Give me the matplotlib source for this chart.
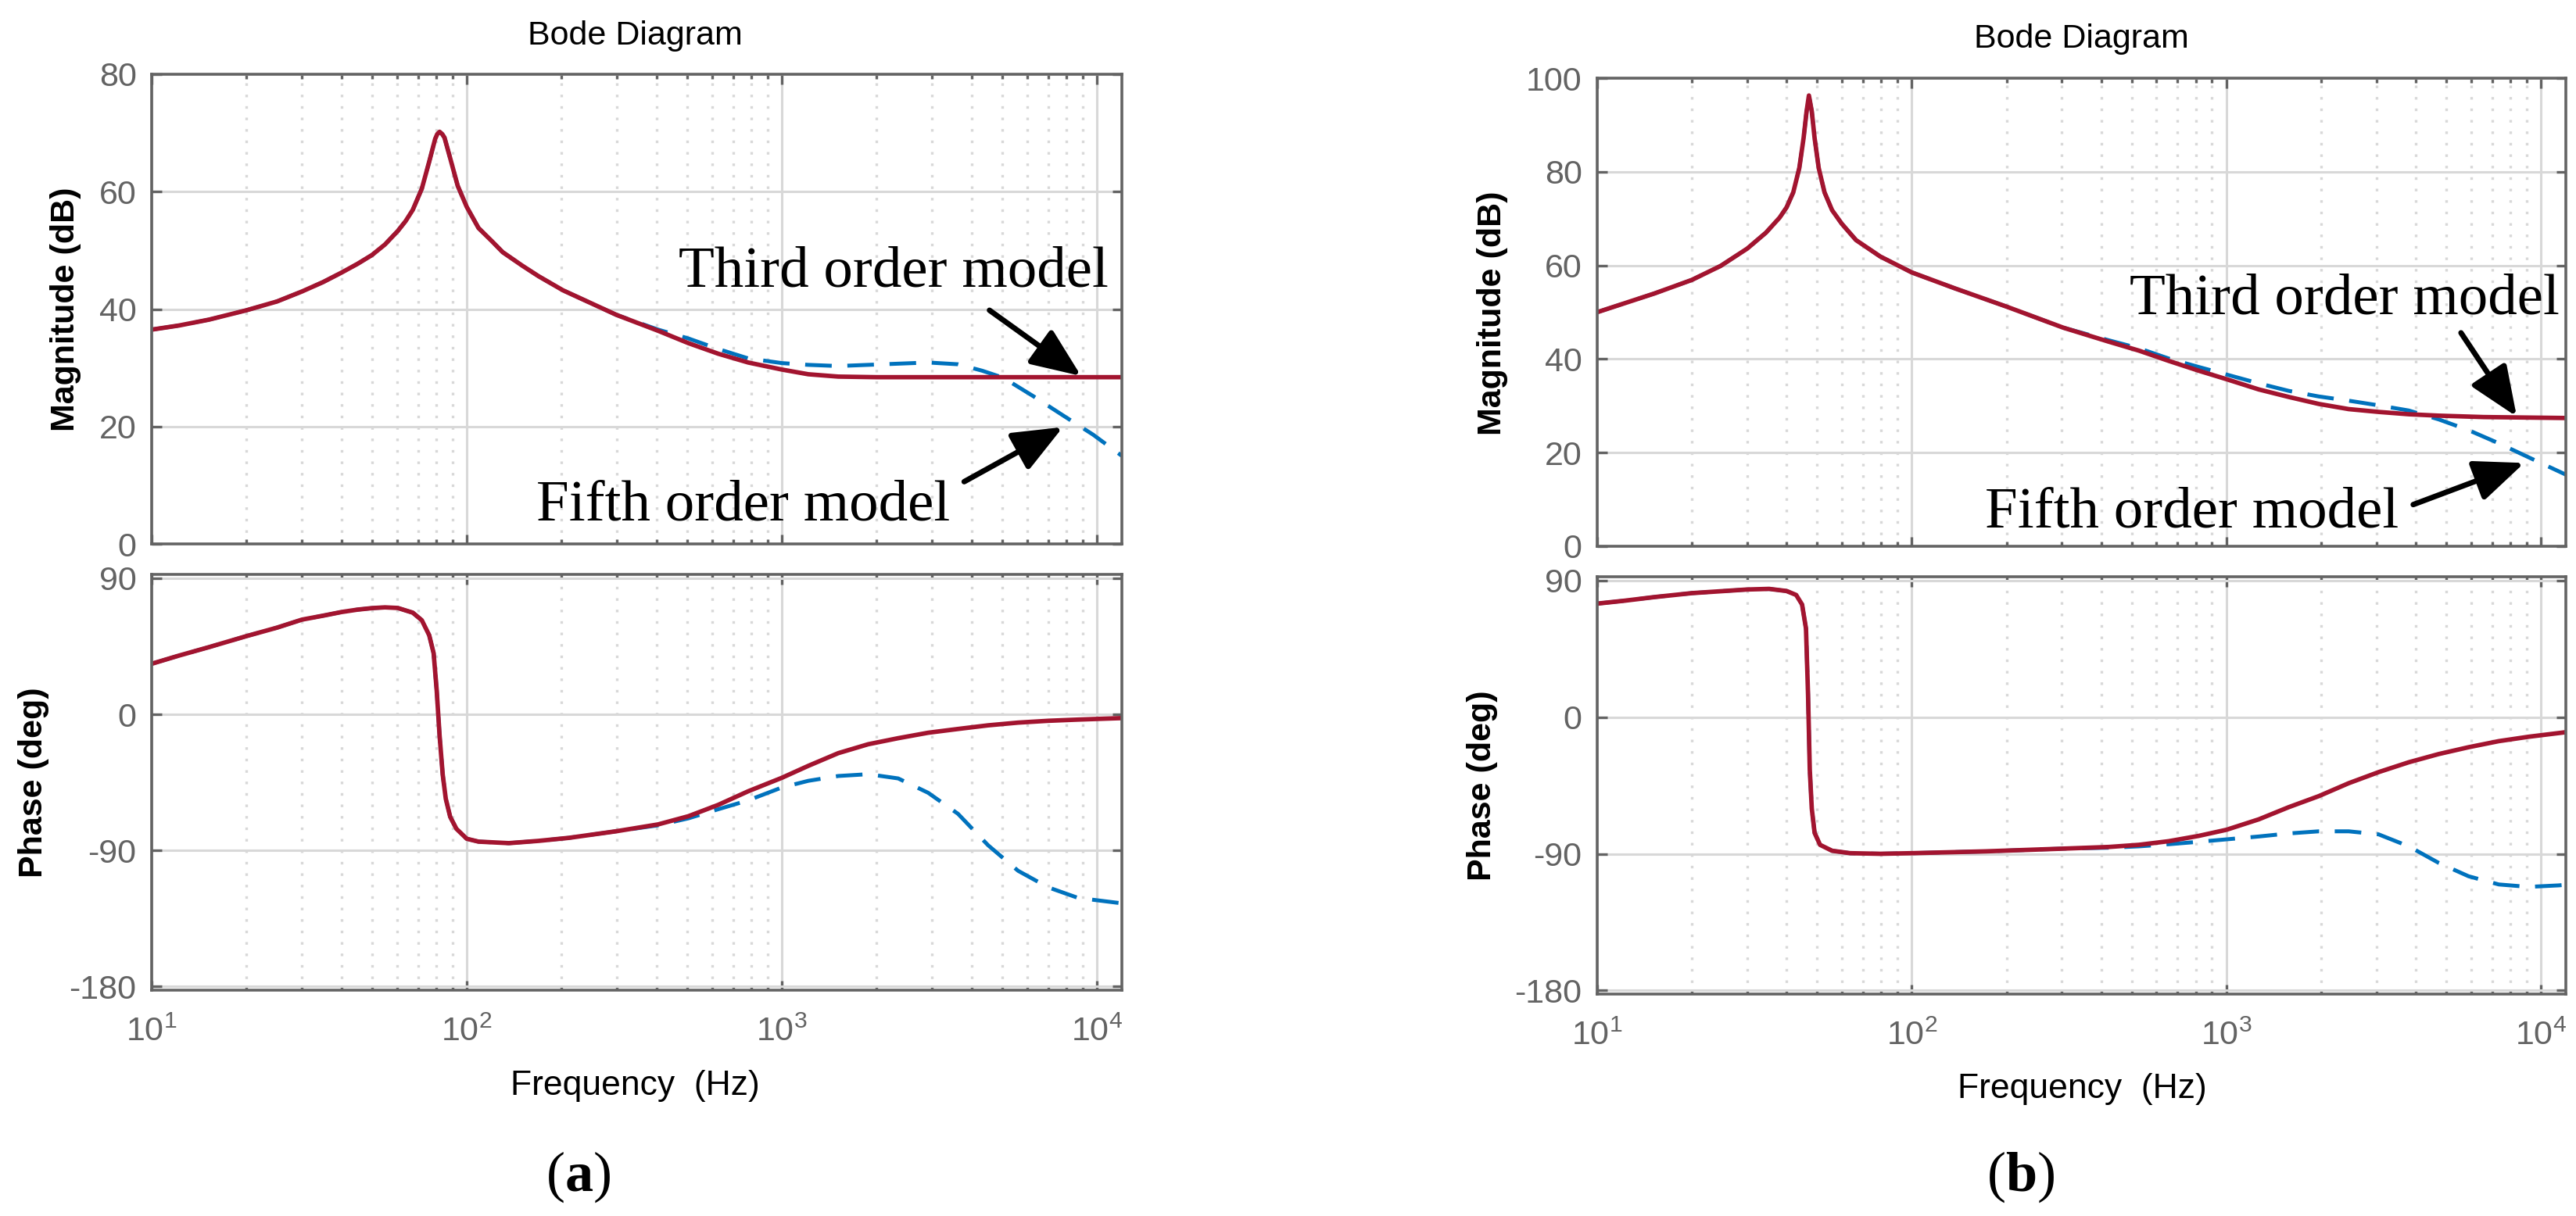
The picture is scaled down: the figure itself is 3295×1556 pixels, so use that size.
""" Bode diagrams: third order vs. fifth order model, panels (a) and (b).

    Curve values read off the published figure.
"""

import numpy as np
import matplotlib
matplotlib.use('Agg')
import matplotlib.pyplot as plt
from matplotlib.ticker import LogLocator, FuncFormatter, NullFormatter

plt.rcParams['font.family'] = ['Liberation Sans', 'DejaVu Sans']
plt.rcParams['axes.unicode_minus'] = False
plt.rcParams['mathtext.fontset'] = 'custom'
plt.rcParams['mathtext.rm'] = 'Liberation Serif'
plt.rcParams['mathtext.bf'] = 'Liberation Serif:bold'


########
# Data #
########
# Panel (a), magnitude (dB)
freq_a_mag = [10, 12.2, 15.2, 20, 25, 30, 35, 40, 45, 50,
              55, 60.4, 64, 67.4, 72, 76, 79.4, 80.6, 82, 83.6,
              85, 88.7, 93.6, 100, 109, 120, 130, 150, 169, 202,
              299, 405, 505, 628, 782, 1000, 1213, 1510, 2000, 5000,
              12000]
third_a_mag = [36.5, 37.2, 38.2, 39.8, 41.3, 43.0, 44.6, 46.2, 47.7, 49.2,
               51.0, 53.3, 55.0, 56.9, 60.5, 65.1, 69.0, 69.8, 70.2, 69.8,
               69.2, 65.6, 61.0, 57.4, 53.8, 51.6, 49.7, 47.4, 45.6, 43.2,
               39.0, 36.3, 34.2, 32.4, 30.9, 29.7, 28.9, 28.5, 28.4, 28.4,
               28.4]
# fifth order model sits on the third order curve below ~300 Hz
n = freq_a_mag.index(299) + 1
freq_a_mag5 = freq_a_mag[:n] + [405, 505, 628, 782, 1000, 1213, 1510, 1880,
                                2340, 2913, 3623, 4325, 5047, 6266, 7800,
                                9730, 12000]
fifth_a_mag = third_a_mag[:n] + [36.5, 35.0, 33.2, 31.6, 30.8, 30.5, 30.3,
                                 30.5, 30.7, 30.9, 30.6, 29.5, 28.3, 25.2,
                                 21.9, 18.6, 15.0]

# Panel (a), phase (deg)
freq_a_ph = [10, 12.2, 15.2, 20, 25, 30, 35, 40, 45, 50,
             55, 60.4, 67.4, 72, 76, 78.5, 80.3, 82, 83.9, 85.8,
             88.6, 92.7, 100, 109, 136, 169, 211, 299, 405, 505,
             628, 782, 1000, 1213, 1510, 1880, 2340, 2913, 3623, 4515,
             5623, 7000, 8710, 12000]
third_a_ph = [33.4, 38.8, 44.4, 51.7, 57.3, 62.6, 65.2, 67.6, 69.2, 70.2,
              70.7, 70.3, 67.2, 62.2, 52.3, 40.4, 15.6, -14.2, -40.0, -55.9,
              -67.8, -75.7, -82.3, -84.2, -85.2, -83.7, -81.7, -77.3, -72.8, -67.4,
              -59.9, -50.9, -42.0, -34.1, -25.7, -19.8, -15.8, -12.2, -9.7, -7.3,
              -5.5, -4.3, -3.5, -2.5]
n = freq_a_ph.index(299) + 1
freq_a_ph5 = freq_a_ph[:n] + [405, 505, 628, 782, 1000, 1213, 1510, 1880,
                              2340, 2913, 3623, 4515, 5623, 7000, 8710, 12000]
fifth_a_ph = third_a_ph[:n] + [-73.4, -68.8, -62.8, -56.9, -48.4, -44.0,
                               -40.8, -39.6, -42.4, -51.9, -65.8, -86.6,
                               -103.5, -114.4, -121.4, -125.0]

# Panel (b), magnitude (dB)
freq_b_mag = [10, 12.2, 15.2, 20, 24.7, 30, 34.4, 38, 40, 42,
              43.9, 45.3, 46.3, 47.1, 48.1, 49.1, 50.6, 52.8, 55.8, 59.9,
              66.5, 79.4, 100, 137, 200, 303, 423, 527, 656, 817,
              1000, 1268, 1578, 1968, 2449, 3048, 3802, 4732, 6577, 12000]
third_b_mag = [50.0, 51.9, 54.0, 56.9, 59.9, 63.6, 67.0, 70.2, 72.4, 75.6,
               80.8, 87.2, 92.9, 96.3, 92.9, 87.2, 80.8, 75.6, 71.8, 68.9,
               65.4, 61.9, 58.5, 55.1, 51.2, 46.7, 43.7, 41.8, 39.6, 37.5,
               35.7, 33.5, 31.9, 30.4, 29.3, 28.7, 28.2, 27.9, 27.6, 27.4]
n = freq_b_mag.index(303) + 1
freq_b_mag5 = freq_b_mag[:n] + [423, 527, 656, 817, 1000, 1268, 1578, 1968,
                                2449, 3048, 3802, 4732, 5888, 7345, 9140,
                                12000]
fifth_b_mag = third_b_mag[:n] + [44.0, 42.3, 40.1, 38.3, 36.7, 34.8, 33.2,
                                 32.0, 31.1, 30.1, 29.0, 27.1, 24.8, 22.0,
                                 19.0, 15.3]

# Panel (b), phase (deg)
freq_b_ph = [10, 12.2, 15.2, 20, 30, 35.2, 40, 42.9, 44.8, 46.1,
             46.8, 47.4, 48.1, 49.1, 51.1, 55.8, 63.7, 79.4, 100, 171,
             303, 423, 527, 656, 817, 1000, 1268, 1578, 1968, 2449,
             3048, 3802, 4732, 5888, 7345, 9140, 12000]
third_b_ph = [74.8, 76.7, 79.1, 81.7, 84.1, 84.5, 83.1, 80.5, 74.2, 58.4,
              14.9, -34.6, -60.3, -76.2, -84.1, -88.0, -89.6, -90.0, -89.6, -88.4,
              -86.6, -85.5, -84.1, -81.7, -78.2, -74.2, -67.3, -59.3, -52.0, -43.5,
              -36.2, -29.7, -24.3, -19.8, -15.8, -12.9, -9.9]
n = freq_b_ph.index(303) + 1
freq_b_ph5 = freq_b_ph[:n] + [423, 527, 656, 817, 1000, 1268, 1578, 1968,
                              2449, 3048, 3802, 4732, 5888, 7345, 9140,
                              11400, 12000]
fifth_b_ph = third_b_ph[:n] + [-86.0, -85.1, -83.7, -82.1, -80.5, -78.6,
                               -76.6, -75.2, -75.2, -77.2, -85.1, -96.0,
                               -104.8, -110.2, -111.8, -110.8, -110.4]

mag_ticks_a = [0, 20, 40, 60, 80]
mag_ticks_b = [0, 20, 40, 60, 80, 100]
phase_ticks = [-180, -90, 0, 90]


##########
# Styles #
##########
W, H = 3295, 1556
RED = '#A2142F'
BLUE = '#0072BD'
AXC = '#636363'
GRID = '#d8d8d8'


def px_box(l, t, r, b):
    """ Axes rectangle from pixel edges (top-left origin). """
    return [l / W, 1 - b / H, (r - l) / W, (b - t) / H]


def px(x, y):
    return x / W, 1 - y / H


def dec_label(v, pos):
    return r'$\mathregular{10^{%d}}$' % int(round(np.log10(v)))


def style_axes(ax, yticks, ylim, show_x):
    ax.set_xscale('log')
    ax.set_xlim(10, 12000)
    ax.set_ylim(*ylim)
    ax.set_yticks(yticks)
    ax.xaxis.set_major_locator(LogLocator(base=10, numticks=10))
    ax.xaxis.set_minor_locator(LogLocator(base=10, subs=np.arange(2, 10), numticks=40))
    ax.xaxis.set_minor_formatter(NullFormatter())
    if show_x:
        ax.xaxis.set_major_formatter(FuncFormatter(dec_label))
    else:
        ax.xaxis.set_major_formatter(NullFormatter())
    ax.grid(True, which='major', color=GRID, lw=2.2, ls='-')
    ax.grid(True, which='minor', axis='x', color=GRID, lw=2.4, ls=(0, (1, 3.4)))
    ax.set_axisbelow(True)
    for s in ax.spines.values():
        s.set_color(AXC)
        s.set_linewidth(2.6)
    ax.tick_params(which='both', direction='in', top=True, right=True,
                   color=AXC, width=2.4, labelcolor=AXC, labelsize=31, pad=14)
    ax.tick_params(which='major', length=9)
    ax.tick_params(which='minor', length=4.5)
    ax.tick_params(axis='x', pad=24)


def draw_curves(ax, f3, v3, f5, v5):
    ax.plot(f5, v5, color=BLUE, lw=3.6, ls='--', dashes=(6.8, 4.0))
    ax.plot(f3, v3, color=RED, lw=4.1, solid_joinstyle='round')


def arrow(ax, tail, tip):
    ax.annotate('', xy=tip, xytext=tail,
                arrowprops=dict(arrowstyle='-|>,head_length=0.6,head_width=0.25',
                                color='k', lw=5, mutation_scale=65,
                                shrinkA=0, shrinkB=0))


fig = plt.figure(figsize=(W / 100, H / 100), dpi=100)

#############
# Panel (a) #
#############
ax_am = fig.add_axes(px_box(194, 95, 1435, 696))
ax_ap = fig.add_axes(px_box(194, 735, 1435, 1267))
draw_curves(ax_am, freq_a_mag, third_a_mag, freq_a_mag5, fifth_a_mag)
draw_curves(ax_ap, freq_a_ph, third_a_ph, freq_a_ph5, fifth_a_ph)
style_axes(ax_am, mag_ticks_a, (0, 80), False)
style_axes(ax_ap, phase_ticks, (-182.4, 92.5), True)

ax_am.text(2265, 43.8, 'Third order model', family='Liberation Serif',
           fontsize=54, ha='center', va='baseline')
ax_am.text(753, 4.0, 'Fifth order model', family='Liberation Serif',
           fontsize=54, ha='center', va='baseline')
arrow(ax_am, (4560, 39.8), (8910, 28.6))
arrow(ax_am, (3790, 10.6), (7800, 19.9))

fig.text(*px(812, 46), 'Bode Diagram', fontsize=31, ha='center', va='center')
fig.text(*px(84, 396), 'Magnitude (dB)', fontsize=31, fontweight='bold',
         rotation=90, ha='center', va='center')
fig.text(*px(43, 1001), 'Phase (deg)', fontsize=31, fontweight='bold',
         rotation=90, ha='center', va='center')
fig.text(*px(812, 1390), 'Frequency  (Hz)', fontsize=32, ha='center', va='center')
fig.text(*px(740, 1506), r'($\mathbf{a}$)', family='Liberation Serif',
         fontsize=52, ha='center', va='center')

#############
# Panel (b) #
#############
ax_bm = fig.add_axes(px_box(2043, 100, 3282, 699))
ax_bp = fig.add_axes(px_box(2043, 738, 3282, 1272))
draw_curves(ax_bm, freq_b_mag, third_b_mag, freq_b_mag5, fifth_b_mag)
draw_curves(ax_bp, freq_b_ph, third_b_ph, freq_b_ph5, fifth_b_ph)
style_axes(ax_bm, mag_ticks_b, (0, 100), False)
style_axes(ax_bp, phase_ticks, (-182.4, 92.5), True)

ax_bm.text(2375, 49.7, 'Third order model', family='Liberation Serif',
           fontsize=54, ha='center', va='baseline')
ax_bm.text(777, 4.05, 'Fifth order model', family='Liberation Serif',
           fontsize=54, ha='center', va='baseline')
arrow(ax_bm, (5570, 45.6), (8375, 27.7))
arrow(ax_bm, (3926, 8.9), (8850, 17.8))

fig.text(*px(2662, 50), 'Bode Diagram', fontsize=31, ha='center', va='center')
fig.text(*px(1909, 401), 'Magnitude (dB)', fontsize=31, fontweight='bold',
         rotation=90, ha='center', va='center')
fig.text(*px(1896, 1005), 'Phase (deg)', fontsize=31, fontweight='bold',
         rotation=90, ha='center', va='center')
fig.text(*px(2663, 1394), 'Frequency  (Hz)', fontsize=32, ha='center', va='center')
fig.text(*px(2585, 1506), r'($\mathbf{b}$)', family='Liberation Serif',
         fontsize=52, ha='center', va='center')

fig.savefig('out.png', dpi=100)
